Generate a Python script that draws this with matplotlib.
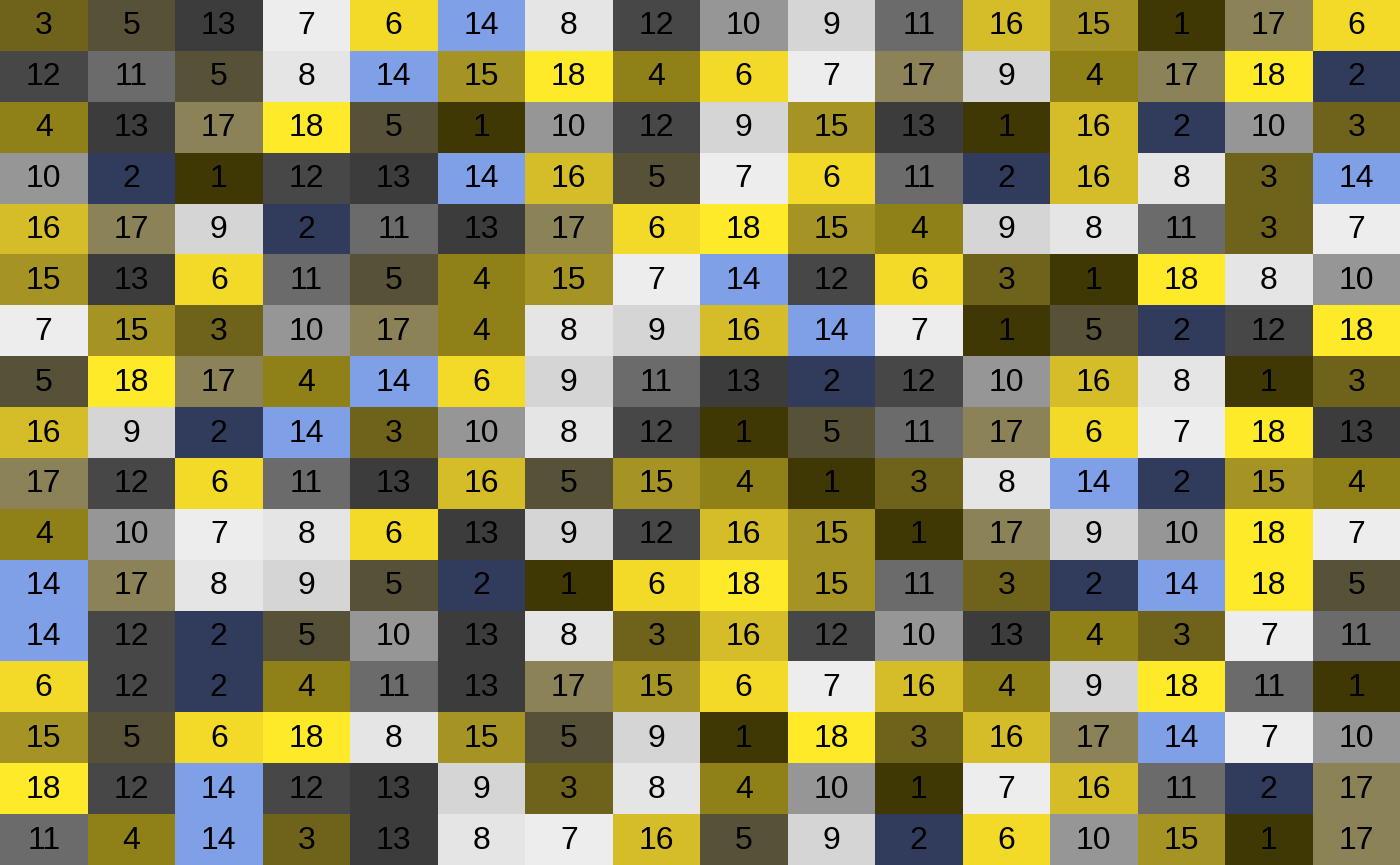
import matplotlib
matplotlib.use("Agg")
import matplotlib.pyplot as plt
from matplotlib.colors import ListedColormap, BoundaryNorm
import numpy as np

rows = [
    [3, 5, 13, 7, 6, 14, 8, 12, 10, 9, 11, 16, 15, 1, 17, 6],
    [12, 11, 5, 8, 14, 15, 18, 4, 6, 7, 17, 9, 4, 17, 18, 2],
    [4, 13, 17, 18, 5, 1, 10, 12, 9, 15, 13, 1, 16, 2, 10, 3],
    [10, 2, 1, 12, 13, 14, 16, 5, 7, 6, 11, 2, 16, 8, 3, 14],
    [16, 17, 9, 2, 11, 13, 17, 6, 18, 15, 4, 9, 8, 11, 3, 7],
    [15, 13, 6, 11, 5, 4, 15, 7, 14, 12, 6, 3, 1, 18, 8, 10],
    [7, 15, 3, 10, 17, 4, 8, 9, 16, 14, 7, 1, 5, 2, 12, 18],
    [5, 18, 17, 4, 14, 6, 9, 11, 13, 2, 12, 10, 16, 8, 1, 3],
    [16, 9, 2, 14, 3, 10, 8, 12, 1, 5, 11, 17, 6, 7, 18, 13],
    [17, 12, 6, 11, 13, 16, 5, 15, 4, 1, 3, 8, 14, 2, 15, 4],
    [4, 10, 7, 8, 6, 13, 9, 12, 16, 15, 1, 17, 9, 10, 18, 7],
    [14, 17, 8, 9, 5, 2, 1, 6, 18, 15, 11, 3, 2, 14, 18, 5],
    [14, 12, 2, 5, 10, 13, 8, 3, 16, 12, 10, 13, 4, 3, 7, 11],
    [6, 12, 2, 4, 11, 13, 17, 15, 6, 7, 16, 4, 9, 18, 11, 1],
    [15, 5, 6, 18, 8, 15, 5, 9, 1, 18, 3, 16, 17, 14, 7, 10],
    [18, 12, 14, 12, 13, 9, 3, 8, 4, 10, 1, 7, 16, 11, 2, 17],
    [11, 4, 14, 3, 13, 8, 7, 16, 5, 9, 2, 6, 10, 15, 1, 17],
]

levels = list(range(1, 19))
level_colors = [
    "#3f3804",  # 1
    "#313c5c",  # 2
    "#6f631c",  # 3
    "#8f8017",  # 4
    "#575138",  # 5
    "#f4da28",  # 6
    "#ededed",  # 7
    "#e5e5e5",  # 8
    "#d5d5d5",  # 9
    "#969696",  # 10
    "#6b6b6b",  # 11
    "#474747",  # 12
    "#3c3c3c",  # 13
    "#7f9fe6",  # 14
    "#a59324",  # 15
    "#d4bd28",  # 16
    "#8b8258",  # 17
    "#feea28",  # 18
]

data = np.array(rows)
nrows, ncols = data.shape

fig = plt.figure(figsize=(14, 8.65), dpi=100)
ax = fig.add_axes([0, 0, 1, 1])
cmap = ListedColormap(level_colors)
norm = BoundaryNorm(np.arange(0.5, 19.5, 1), cmap.N)
ax.pcolormesh(np.arange(ncols + 1), np.arange(nrows + 1), data, cmap=cmap, norm=norm)
ax.set_xlim(0, ncols)
ax.set_ylim(nrows, 0)
ax.axis("off")

for i in range(nrows):
    for j in range(ncols):
        ax.text(j + 0.5, i + 0.52, str(data[i, j]), ha="center", va="center",
                fontsize=23, color="black",
                family=["Liberation Sans Narrow", "Liberation Sans", "DejaVu Sans"])

fig.savefig("out.png", dpi=100)
